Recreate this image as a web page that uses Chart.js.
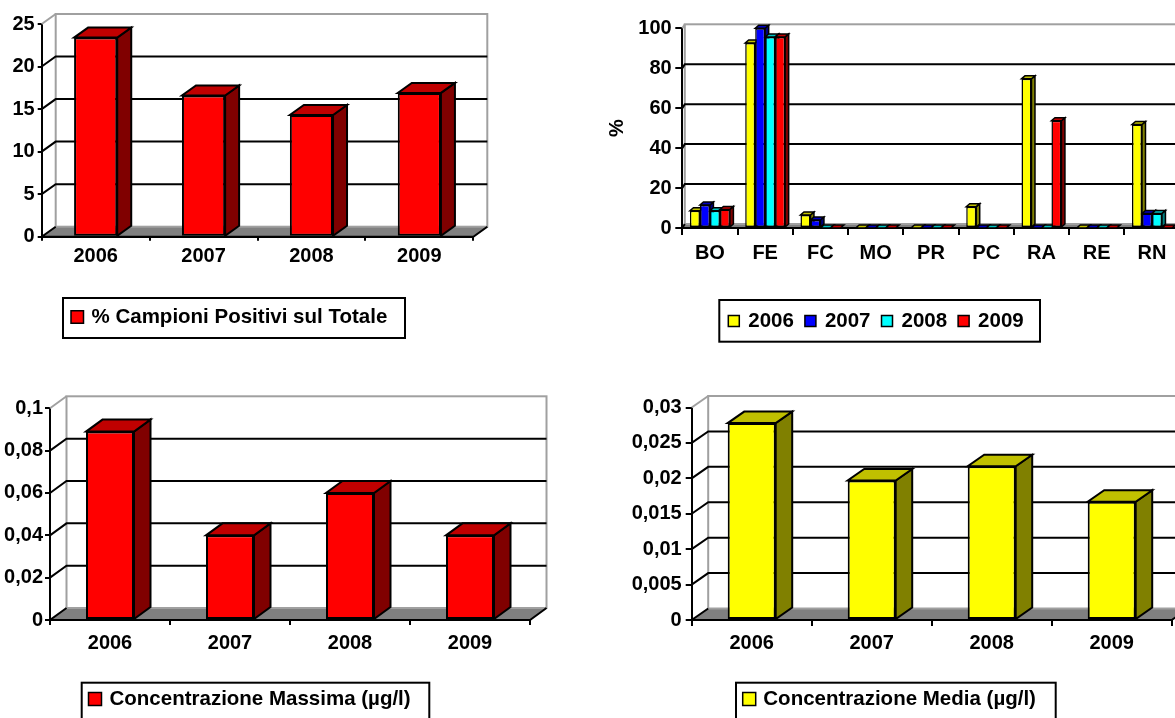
<!DOCTYPE html>
<html>
<head>
<meta charset="utf-8">
<title>Campioni positivi</title>
<script src="https://cdn.jsdelivr.net/npm/chart.js@4"></script>
<style>
  html, body { margin: 0; padding: 0; background: #fff; overflow: hidden; }
  body { width: 1175px; height: 718px; position: relative; }
  canvas { position: absolute; }
</style>
</head>
<body>
<canvas id="chart1"></canvas>
<canvas id="chart2"></canvas>
<canvas id="chart3"></canvas>
<canvas id="chart4"></canvas>
<script>
// DATA
const years = ['2006', '2007', '2008', '2009'];
const positiviPct = [23.4, 16.6, 14.3, 16.9];
const yTicks1 = [0, 5, 10, 15, 20, 25];

const province = ['BO', 'FE', 'FC', 'MO', 'PR', 'PC', 'RA', 'RE', 'RN'];
const prov2006 = [8.7, 92.7, 6.5, 0, 0, 10.7, 74.7, 0, 51.8];
const prov2007 = [11.5, 100, 4, 0, 0, 0, 0, 0, 7.3];
const prov2008 = [8.7, 95.7, 0, 0, 0, 0, 0, 0, 7.3];
const prov2009 = [9.3, 95.7, 0, 0, 0, 0, 53.7, 0, 0];
const yTicks2 = [0, 20, 40, 60, 80, 100];

const concMassima = [0.089, 0.04, 0.06, 0.04];
const yTicks3 = [0, 0.02, 0.04, 0.06, 0.08, 0.1];

const concMedia = [0.0278, 0.0197, 0.0217, 0.0167];
const yTicks4 = [0, 0.005, 0.01, 0.015, 0.02, 0.025, 0.03];

// COLOURS (front, top, side of the 3D bars)
const RED = { front: '#FF0000', top: '#C00000', side: '#800000' };
const YELLOW = { front: '#FFFF00', top: '#C0C000', side: '#808000' };
const BLUE = { front: '#0000FF', top: '#0000C0', side: '#000080' };
const CYAN = { front: '#00FFFF', top: '#00C0C0', side: '#008080' };

const FONT = '"Liberation Sans", Arial, Helvetica, sans-serif';

function fmt(v) {
  return String(+v.toFixed(4)).replace('.', ',');
}

function poly(ctx, pts, fill) {
  ctx.beginPath();
  ctx.moveTo(pts[0][0], pts[0][1]);
  for (let i = 1; i < pts.length; i++) ctx.lineTo(pts[i][0], pts[i][1]);
  ctx.closePath();
  ctx.fillStyle = fill;
  ctx.fill();
  ctx.stroke();
}

// 3D WALLS, FLOOR, BAR SIDES + BOXED LEGEND
const bars3d = {
  id: 'bars3d',
  beforeDatasetsDraw(chart, args, o) {
    const ctx = chart.ctx;
    const a = chart.chartArea;
    const ys = chart.scales.y;
    const L = a.left, R = a.right, T = a.top, B = a.bottom;
    const dx = o.dx, dy = o.dy;
    ctx.save();
    // floor
    ctx.beginPath();
    ctx.moveTo(L, B); ctx.lineTo(R, B); ctx.lineTo(R + dx, B + dy); ctx.lineTo(L + dx, B + dy);
    ctx.closePath();
    ctx.fillStyle = '#808080';
    ctx.fill();
    // back wall
    ctx.strokeStyle = '#a0a0a0';
    ctx.lineWidth = 2;
    ctx.strokeRect(L + dx, T + dy, R - L, B - T);
    ctx.beginPath(); ctx.moveTo(L, T); ctx.lineTo(L + dx, T + dy); ctx.stroke();
    // gridlines on the back wall
    ctx.strokeStyle = '#000';
    ys.ticks.forEach(t => {
      if (t.value <= ys.min || t.value >= ys.max) return;
      const py = ys.getPixelForValue(t.value);
      ctx.beginPath();
      ctx.moveTo(L, py); ctx.lineTo(L + dx, py + dy); ctx.lineTo(R + dx, py + dy);
      ctx.stroke();
    });
    // floor edges
    ctx.beginPath();
    ctx.moveTo(L + dx, B + dy); ctx.lineTo(L, B); ctx.lineTo(R, B); ctx.lineTo(R + dx, B + dy);
    ctx.stroke();
    // bar sides and tops, left to right
    const faces = [];
    chart.data.datasets.forEach((ds, i) => {
      chart.getDatasetMeta(i).data.forEach(el => faces.push({ el, col: o.colors[i] }));
    });
    faces.sort((p, q) => p.el.x - q.el.x);
    ctx.lineWidth = o.edge;
    ctx.lineJoin = 'miter';
    const bx = o.bdx, by = o.bdy;
    faces.forEach(({ el, col }) => {
      const x0 = el.x - el.width / 2, x1 = el.x + el.width / 2;
      const yt = el.y, yb = el.base;
      if (yb - yt > 0.5) {
        poly(ctx, [[x1, yt], [x1, yb], [x1 + bx, yb + by], [x1 + bx, yt + by]], col.side);
      }
      poly(ctx, [[x0, yt], [x1, yt], [x1 + bx, yt + by], [x0 + bx, yt + by]], col.top);
    });
    ctx.restore();
  },
  afterDraw(chart, args, o) {
    const lg = o.legend;
    const ctx = chart.ctx;
    ctx.save();
    ctx.strokeStyle = '#000';
    ctx.lineWidth = 2;
    ctx.strokeRect(lg.x, lg.y, lg.w, lg.h);
    ctx.font = 'bold ' + lg.size + 'px ' + FONT;
    ctx.textBaseline = 'middle';
    let x = lg.sx;
    chart.data.datasets.forEach(ds => {
      ctx.fillStyle = ds.backgroundColor;
      ctx.fillRect(x, lg.cy - lg.sw / 2, lg.sw, lg.sw);
      ctx.lineWidth = 1.5;
      ctx.strokeRect(x, lg.cy - lg.sw / 2, lg.sw, lg.sw);
      x += lg.sw + lg.tg;
      ctx.fillStyle = '#000';
      ctx.fillText(ds.label, x, lg.cy);
      x += ctx.measureText(ds.label).width + lg.ig;
    });
    ctx.restore();
  }
};

function build(id, p) {
  const cv = document.getElementById(id);
  cv.width = p.box.w;
  cv.height = p.box.h;
  cv.style.left = p.box.x + 'px';
  cv.style.top = p.box.y + 'px';
  const L = p.plot.L - p.box.x, R = p.plot.R - p.box.x;
  const T = p.plot.T - p.box.y, B = p.plot.B - p.box.y;
  const xH = 40;
  const tickFont = { family: FONT, size: 20, weight: 'bold' };
  const lg = p.legend;
  return new Chart(cv, {
    type: 'bar',
    data: {
      labels: p.labels,
      datasets: p.series.map(s => ({
        label: s.label,
        data: s.data,
        backgroundColor: s.col.front,
        borderColor: '#000',
        borderWidth: p.edge,
        borderSkipped: false,
        categoryPercentage: p.catPct,
        barPercentage: 1
      }))
    },
    options: {
      responsive: false,
      animation: false,
      layout: { padding: { left: 0, top: T, right: p.box.w - R, bottom: p.box.h - B - xH } },
      plugins: {
        legend: { display: false },
        tooltip: { enabled: false },
        bars3d: {
          dx: p.dx, dy: p.dy, bdx: p.bdx, bdy: p.bdy, edge: p.edge,
          colors: p.series.map(s => s.col),
          legend: {
            x: lg.x - p.box.x, y: lg.y - p.box.y, w: lg.w, h: lg.h,
            sx: lg.sx - p.box.x, sw: lg.sw, tg: lg.tg, ig: lg.ig || 0,
            cy: lg.cy - p.box.y, size: 20.5
          }
        }
      },
      scales: {
        x: {
          grid: { offset: true, drawOnChartArea: false, tickLength: p.tick, color: '#000', lineWidth: 2 },
          border: { color: '#000', width: 2 },
          ticks: { font: tickFont, color: '#000', padding: p.xPad, maxRotation: 0, autoSkip: false },
          afterFit: s => { s.height = xH; }
        },
        y: {
          min: p.yTicks[0],
          max: p.yTicks[p.yTicks.length - 1],
          afterBuildTicks: s => { s.ticks = p.yTicks.map(v => ({ value: v })); },
          grid: { drawOnChartArea: false, tickLength: p.tick, color: '#000', lineWidth: 2 },
          border: { color: '#000', width: 2 },
          ticks: { font: tickFont, color: '#000', padding: p.yPad, callback: v => fmt(v) },
          title: p.yTitle
            ? { display: true, text: p.yTitle, color: '#000', font: tickFont, padding: { top: 15, bottom: 0 } }
            : { display: false },
          afterFit: s => { s.width = L; }
        }
      }
    },
    plugins: [bars3d]
  });
}

// TOP LEFT: % CAMPIONI POSITIVI
build('chart1', {
  box: { x: 0, y: 0, w: 500, h: 350 },
  plot: { L: 41.7, R: 473.3, T: 24, B: 236.7 },
  dx: 14, dy: -10, bdx: 14, bdy: -10, edge: 2,
  tick: 4, yPad: 3, xPad: 4, catPct: 0.4,
  labels: years, yTicks: yTicks1,
  series: [{ label: '% Campioni Positivi sul Totale', data: positiviPct, col: RED }],
  legend: { x: 63, y: 298, w: 342, h: 40, sx: 71, sw: 12.5, tg: 8, cy: 317 }
});

// TOP RIGHT: PER PROVINCIA
build('chart2', {
  box: { x: 590, y: 0, w: 600, h: 350 },
  plot: { L: 682.3, R: 1179.6, T: 28.3, B: 228 },
  dx: 2.5, dy: -4, bdx: 3.5, bdy: -3, edge: 1.5,
  tick: 7, yPad: 3.6, xPad: 6.3, catPct: 0.723,
  labels: province, yTicks: yTicks2, yTitle: '%',
  series: [
    { label: '2006', data: prov2006, col: YELLOW },
    { label: '2007', data: prov2007, col: BLUE },
    { label: '2008', data: prov2008, col: CYAN },
    { label: '2009', data: prov2009, col: RED }
  ],
  legend: { x: 719.3, y: 300, w: 320.7, h: 41.7, sx: 728.3, sw: 11, tg: 9, ig: 11, cy: 321 }
});

// BOTTOM LEFT: CONCENTRAZIONE MASSIMA
build('chart3', {
  box: { x: 0, y: 380, w: 570, h: 338 },
  plot: { L: 50, R: 530, T: 408.3, B: 620 },
  dx: 16.5, dy: -12, bdx: 16.5, bdy: -12, edge: 2,
  tick: 5, yPad: 2, xPad: 6, catPct: 0.4,
  labels: years, yTicks: yTicks3,
  series: [{ label: 'Concentrazione Massima (µg/l)', data: concMassima, col: RED }],
  legend: { x: 81.7, y: 682.7, w: 347.6, h: 40, sx: 88.5, sw: 13, tg: 8, cy: 699 }
});

// BOTTOM RIGHT: CONCENTRAZIONE MEDIA
build('chart4', {
  box: { x: 600, y: 380, w: 600, h: 338 },
  plot: { L: 691.7, R: 1171.7, T: 407.5, B: 620 },
  dx: 16.5, dy: -11.5, bdx: 16.5, bdy: -11.5, edge: 2,
  tick: 6, yPad: 4, xPad: 5.3, catPct: 0.4,
  labels: years, yTicks: yTicks4,
  series: [{ label: 'Concentrazione Media (µg/l)', data: concMedia, col: YELLOW }],
  legend: { x: 736, y: 682.7, w: 319.7, h: 40, sx: 742.7, sw: 13, tg: 7.6, cy: 699 }
});
</script>
</body>
</html>
